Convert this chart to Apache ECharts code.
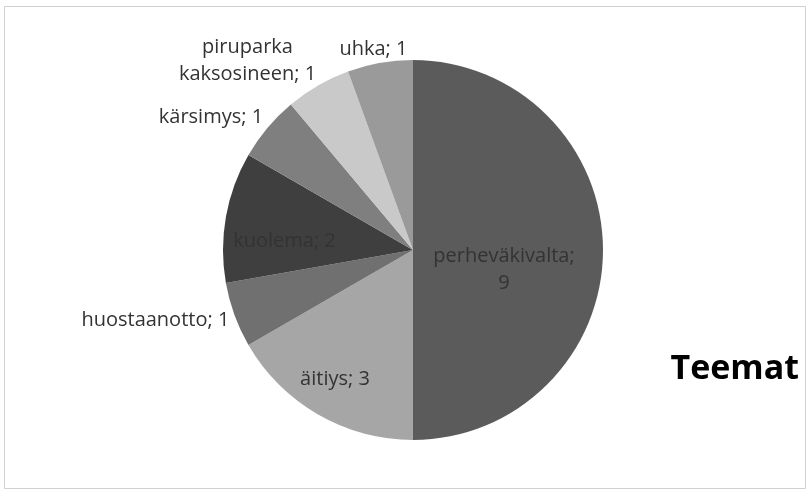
<!DOCTYPE html>
<html>
<head>
<meta charset="utf-8">
<script src="https://cdn.jsdelivr.net/npm/echarts@6/dist/echarts.min.js"></script>
<style>
  html, body { margin: 0; padding: 0; background: #fff; }
  #main { width: 809px; height: 491px; }
</style>
</head>
<body>
<div id="main"></div>
<script>
// teemat ja niiden määrät
var categories = ['perheväkivalta', 'äitiys', 'huostaanotto', 'kuolema', 'kärsimys', 'piruparka\nkaksosineen', 'uhka'];
var values = [9, 3, 1, 2, 1, 1, 1];
var colors = ['#5b5b5b', '#a6a6a6', '#707070', '#3f3f3f', '#7f7f7f', '#c9c9c9', '#9a9a9a'];
// mitkä nimikkeet ovat sektorin sisällä
var inside = [true, true, false, true, false, false, false];

var chart = echarts.init(document.getElementById('main'));

var data = categories.map(function (name, i) {
  var lbl = name === 'perheväkivalta' ? 'perheväkivalta;\n' + values[i] : name + '; ' + values[i];
  return {
    name: name,
    value: values[i],
    itemStyle: { color: colors[i] },
    label: {
      position: inside[i] ? 'inside' : 'outside',
      formatter: lbl
    }
  };
});

// nimikkeiden siirrot
var shift = [[-7, 20], [-29, 44], [-30, 0], [-32, 8], [-10, -1], [-28, -12], [31, 1]];

var option = {
  backgroundColor: '#fff',
  title: {
    text: 'Teemat',
    right: 5,
    top: 347,
    textStyle: { fontFamily: 'Open Sans', fontSize: 34, fontWeight: 'bold', color: '#000' }
  },
  graphic: [{
    type: 'rect',
    shape: { x: 4.5, y: 6.5, width: 801, height: 482 },
    style: { fill: 'none', stroke: '#d0d0d0', lineWidth: 1 },
    silent: true
  }],
  series: [{
    type: 'pie',
    center: [413, 250],
    radius: 190,
    startAngle: 90,
    clockwise: true,
    silent: true,
    avoidLabelOverlap: false,
    label: {
      color: '#333',
      fontFamily: 'Open Sans',
      fontSize: 20,
      lineHeight: 27,
      align: 'center'
    },
    labelLine: { show: false },
    labelLayout: function (p) {
      var s = shift[p.dataIndex];
      return { dx: s[0], dy: s[1], align: 'center' };
    },
    data: data
  }]
};
chart.setOption(option);
</script>
</body>
</html>
